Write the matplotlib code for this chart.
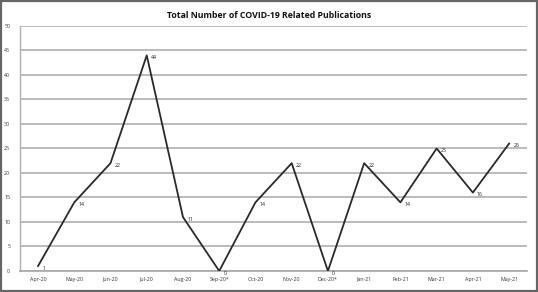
import matplotlib.pyplot as plt
from matplotlib.patches import Rectangle

months = ["Apr-20", "May-20", "Jun-20", "Jul-20", "Aug-20", "Sep-20*", "Oct-20",
          "Nov-20", "Dec-20*", "Jan-21", "Feb-21", "Mar-21", "Apr-21", "May-21"]
counts = [1, 14, 22, 44, 11, 0, 14, 22, 0, 22, 14, 25, 16, 26]

plt.rcParams['font.family'] = ['Open Sans', 'DejaVu Sans']

fig = plt.figure(figsize=(5.38, 2.92), dpi=100)
ax = fig.add_axes([0.037, 0.072, 0.943, 0.839])

x = list(range(len(months)))
ax.plot(x, counts, color='#2a2a2a', lw=1.3, zorder=3)
for xi, v in zip(x, counts):
    ax.annotate(str(v), (xi, v), xytext=(3, -1.5), textcoords='offset points',
                ha='left', va='center', fontsize=3.8, color='#222222')

ax.set_xlim(-0.5, len(months) - 0.5)
ax.set_ylim(0, 50)
ax.set_yticks(range(0, 51, 5))
ax.set_xticks(x)
ax.set_xticklabels(months)
ax.tick_params(axis='both', length=0, labelsize=3.8, colors='#333333')
ax.tick_params(axis='x', pad=4)
ax.tick_params(axis='y', pad=7)
ax.grid(axis='y', color='#a8a8a8', lw=1.1)
ax.set_axisbelow(True)
for s in ['top', 'right']:
    ax.spines[s].set_visible(False)
ax.spines['left'].set_color('#b0b0b0')
ax.spines['bottom'].set_color('#a8a8a8')
ax.spines['left'].set_linewidth(1.0)
ax.spines['bottom'].set_linewidth(1.2)

fig.text(0.5, 0.948, "Total Number of COVID-19 Related Publications",
         ha='center', va='center', fontsize=6.3, fontweight='bold', color='#111111')

fig.patches.append(Rectangle((0.002, 0.003), 0.996, 0.994, transform=fig.transFigure,
                             fill=False, edgecolor='#666666', lw=1.6))

fig.savefig('out.png', dpi=100)
